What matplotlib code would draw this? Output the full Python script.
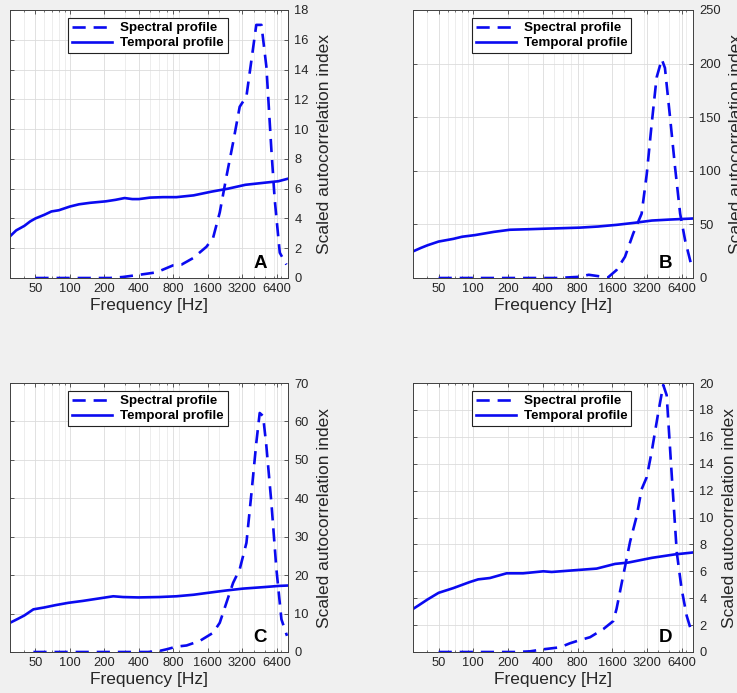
import numpy as np
import matplotlib
matplotlib.use("Agg")
import matplotlib.pyplot as plt
from matplotlib.ticker import FixedLocator, NullFormatter, LogLocator

plt.rcParams["font.family"] = ["Liberation Sans", "DejaVu Sans"]

# ---- data (frequency in Hz) ----
# panel A
spec_f_A = [50, 224, 291, 407, 570, 795, 942, 1190, 1555, 1776, 2030, 2320, 2655, 3030, 3470,
            3840, 4230, 4690, 5180, 5730, 6120, 6780, 7740]
spec_v_A = [0, 0, 0.07, 0.22, 0.38, 0.85, 0.9, 1.34, 2.1, 2.7, 4.4, 6.8, 9.1, 11.5, 12.2,
            14.65, 17.0, 17.0, 14.2, 8.6, 5.3, 1.7, 0.9]
temp_f_A = [30, 34, 40, 45, 50, 60, 69, 80, 100, 120, 150, 206, 250, 300, 350, 400, 500,
            650, 850, 1200, 1720, 2400, 3400, 5000, 6600, 8000]
temp_v_A = [2.8, 3.2, 3.5, 3.8, 4.0, 4.25, 4.47, 4.55, 4.8, 4.95, 5.05, 5.15, 5.25, 5.37,
            5.3, 5.3, 5.4, 5.43, 5.43, 5.55, 5.8, 6.0, 6.26, 6.4, 6.5, 6.67]

# panel B
spec_f_B = [50, 525, 800, 1000, 1250, 1466, 1740, 2060, 2430, 2870, 3180, 3510, 3870, 4290,
            4570, 5060, 5590, 6190, 6840, 7800]
spec_v_B = [0, 0, 1, 3, 1.5, 0.5, 7.4, 19.8, 41.6, 60, 97, 144, 187, 204,
            196, 150, 103.5, 60, 35, 10.5]
temp_f_B = [30, 35, 40, 50, 67, 80, 103, 150, 207, 300, 417, 600, 840, 1200, 1750, 2500,
            3520, 5000, 8000]
temp_v_B = [24.8, 28, 30.5, 34, 36.5, 38.5, 40, 43, 45, 45.5, 46, 46.5, 47, 48, 49.6, 51.5,
            53.6, 54.5, 55.5]

# panel C
spec_f_C = [48, 481, 609, 697, 851, 1043, 1362, 1776, 2030, 2320, 2655, 3030, 3470, 3840,
            4230, 4530, 4850, 5180, 5730, 6340, 7010, 7840]
spec_v_C = [0, 0, 0.3, 0.7, 1.4, 1.7, 2.9, 5.0, 7.6, 12.8, 18.0, 21.5, 28.4, 41.4,
            54.4, 62.2, 61.4, 53.6, 38.8, 21.5, 8.5, 4.2]
temp_f_C = [30, 35, 40, 48, 60, 75, 97, 130, 195, 239, 291, 395, 600, 850, 1200, 1606,
            2300, 3250, 5000, 6690, 8000]
temp_v_C = [7.6, 8.6, 9.5, 11.1, 11.6, 12.2, 12.8, 13.3, 14.1, 14.5, 14.3, 14.2, 14.3, 14.5,
            14.9, 15.4, 16.0, 16.5, 16.9, 17.2, 17.3]

# panel D
spec_f_D = [50, 237, 310, 404, 564, 688, 813, 1026, 1335, 1630, 1740, 1990, 2280, 2600,
            2870, 3180, 3510, 4000, 4420, 4730, 5240, 5790, 6370, 7050, 7800]
spec_v_D = [0, 0, 0.05, 0.2, 0.35, 0.65, 0.85, 1.1, 1.7, 2.3, 3.2, 5.7, 8.2, 10.1,
            12.1, 13.0, 14.9, 17.8, 19.85, 19.1, 13.1, 7.4, 4.7, 2.7, 1.45]
temp_f_D = [30, 34, 40, 50, 67, 93, 110, 139, 194, 270, 404, 477, 813, 1170, 1690, 2200,
            3520, 5500, 8000]
temp_v_D = [3.2, 3.5, 3.9, 4.4, 4.75, 5.2, 5.4, 5.5, 5.85, 5.85, 6.0, 5.95, 6.1, 6.2, 6.55,
            6.65, 7.0, 7.25, 7.4]

letters = ["A", "B", "C", "D"]
ymax = [18, 250, 70, 20]
ystep = [2, 50, 10, 2]
spec_f = [spec_f_A, spec_f_B, spec_f_C, spec_f_D]
spec_v = [spec_v_A, spec_v_B, spec_v_C, spec_v_D]
temp_f = [temp_f_A, temp_f_B, temp_f_C, temp_f_D]
temp_v = [temp_v_A, temp_v_B, temp_v_C, temp_v_D]
xticks = [50, 100, 200, 400, 800, 1600, 3200, 6400]

W, H = 737, 693
fig = plt.figure(figsize=(W / 100, H / 100), dpi=100, facecolor="#f0f0f0")

# axes boxes in pixels: left, top, right, bottom
boxes = [(10, 10, 288, 278), (413, 10, 693, 278),
         (10, 383, 288, 652), (413, 383, 693, 652)]

blue = "#0a0af0"
txtc = "#262626"

for i in range(4):
    l, t, r, b = boxes[i]
    ax = fig.add_axes([l / W, 1 - b / H, (r - l) / W, (b - t) / H])
    ax.set_facecolor("white")
    ax.set_xscale("log")
    ax.plot(spec_f[i], spec_v[i], color=blue, lw=1.9, ls=(0, (5, 3)), label="Spectral profile")
    ax.plot(temp_f[i], temp_v[i], color=blue, lw=1.9, label="Temporal profile")
    ax.set_xlim(30, 8000)
    ax.set_ylim(0, ymax[i])

    ax.xaxis.set_major_locator(FixedLocator(xticks))
    ax.set_xticklabels([str(x) for x in xticks])
    ax.xaxis.set_minor_locator(LogLocator(base=10, subs=np.arange(2, 10)))
    ax.xaxis.set_minor_formatter(NullFormatter())
    ax.set_yticks(np.arange(0, ymax[i] + 1, ystep[i]))
    ax.yaxis.tick_right()
    ax.yaxis.set_label_position("right")

    ax.tick_params(which="both", direction="in", top=True, right=True, left=True,
                   labelleft=False, labelright=True, colors="#404040",
                   labelcolor=txtc, labelsize=9.3)
    ax.tick_params(which="major", length=3, width=0.6)
    ax.tick_params(axis="y", which="major", pad=4.5)
    ax.tick_params(axis="x", which="major", pad=3.5)
    ax.tick_params(which="minor", length=1.5, width=0.5)
    for s in ax.spines.values():
        s.set_color("#404040")
        s.set_linewidth(0.7)

    ax.grid(True, which="major", color="#dcdcdc", lw=0.6)
    ax.grid(True, which="minor", axis="x", color="#e6e6e6", lw=0.5)
    ax.set_axisbelow(True)

    ax.set_xlabel("Frequency [Hz]", fontsize=12.5, color=txtc, labelpad=2)
    ax.set_ylabel("Scaled autocorrelation index", fontsize=12.5, color=txtc, labelpad=6)

    leg = ax.legend(loc="upper left", bbox_to_anchor=(0.21, 0.97), borderaxespad=0,
                    prop={"weight": "bold", "size": 9.6}, fancybox=False, framealpha=1,
                    edgecolor="#222222", handlelength=3.0, borderpad=0.3,
                    labelspacing=0.2, handletextpad=0.6)
    leg.get_frame().set_linewidth(0.8)

    ax.text(0.9, 0.055, letters[i], transform=ax.transAxes, fontsize=13.5,
            fontweight="bold", ha="center", va="center", color="black")

fig.savefig("out.png", dpi=100, facecolor=fig.get_facecolor())
